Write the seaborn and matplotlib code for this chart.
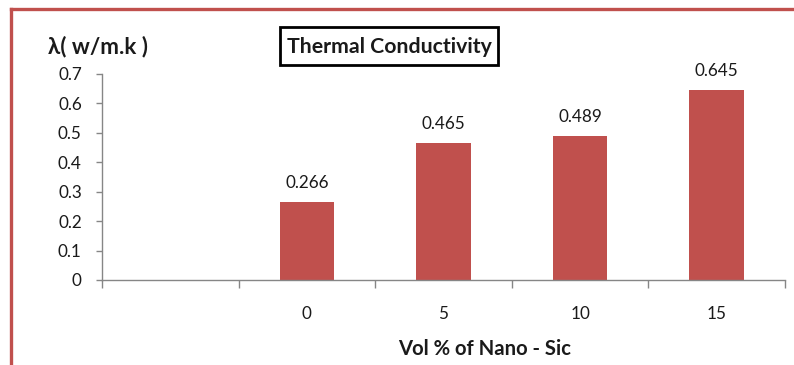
import numpy as np
import pandas as pd
import matplotlib
matplotlib.use("Agg")
import matplotlib.pyplot as plt
from matplotlib.lines import Line2D
from matplotlib.patches import Rectangle
from matplotlib.ticker import FixedLocator
import seaborn as sns

categories = ["", "0", "5", "10", "15"]
values = [np.nan, 0.266, 0.465, 0.489, 0.645]
value_labels = ["", "0.266", "0.465", "0.489", "0.645"]
y_ticks = [0, 0.1, 0.2, 0.3, 0.4, 0.5, 0.6, 0.7]
y_tick_labels = ["0", "0.1", "0.2", "0.3", "0.4", "0.5", "0.6", "0.7"]
title = "Thermal Conductivity"
x_label = "Vol % of Nano - Sic"
y_label = "λ( w/m.k )"

sns.set_style("white")
plt.rcParams["font.family"] = ["Lato", "DejaVu Sans"]

BAR = "#C0504D"
AXIS = "#868686"
TXT = "#1a1a1a"
W, H = 794, 365

df = pd.DataFrame({"cat": categories, "val": values})

fig = plt.figure(figsize=(W / 100, H / 100), dpi=100)
renderer = fig.canvas.get_renderer()


def fit_size(text, target_px, weight="normal"):
    t = fig.text(0, 0, text, fontsize=10, fontweight=weight)
    w = t.get_window_extent(renderer=renderer).width
    t.remove()
    return 10 * target_px / w


tick_fs = fit_size("0.266", 44)
ax = fig.add_axes([102 / W, 1 - 280 / H, (785 - 102) / W, (280 - 74) / H])

sns.barplot(data=df, x="cat", y="val", order=categories, color=BAR,
            saturation=1, width=0.4, ax=ax, edgecolor="none")

ax.set_xlim(-0.5, len(categories) - 0.5)
ax.set_ylim(0, 0.7)
ax.set_yticks(y_ticks)
ax.set_yticklabels(y_tick_labels)

for s in ["top", "right"]:
    ax.spines[s].set_visible(False)
for s in ["left", "bottom"]:
    ax.spines[s].set_color(AXIS)
    ax.spines[s].set_linewidth(1.0)

ax.tick_params(axis="y", which="major", length=4, width=1, color=AXIS,
               labelsize=tick_fs, labelcolor=TXT, pad=10.5, left=True)
ax.xaxis.set_minor_locator(FixedLocator(np.arange(-0.5, len(categories), 1.0)))
ax.tick_params(axis="x", which="minor", length=6, width=1, color=AXIS,
               bottom=True, direction="out")
ax.tick_params(axis="x", which="major", length=0, labelsize=tick_fs,
               labelcolor=TXT, pad=19)
ax.set_xlabel("")
ax.set_ylabel("")

for i, (v, lab) in enumerate(zip(values, value_labels)):
    if lab:
        ax.annotate(lab, xy=(i, v), xytext=(0, 13.5), textcoords="offset points",
                    ha="center", va="center", fontsize=tick_fs, color=TXT)

fig.text(98 / W, 1 - 47 / H, y_label, ha="center", va="center",
         fontsize=fit_size(y_label, 100, "bold"), fontweight="bold", color=TXT)
fig.text(485 / W, 1 - 349 / H, x_label, ha="center", va="center",
         fontsize=fit_size(x_label, 174, "bold"), fontweight="bold", color=TXT)
fig.text(389.5 / W, 1 - 47 / H, title, ha="center", va="center",
         fontsize=fit_size(title, 205, "bold"), fontweight="bold", color=TXT)
fig.add_artist(Rectangle((280 / W, 1 - 65 / H), 218 / W, 38 / H,
                         transform=fig.transFigure, facecolor="none",
                         edgecolor="black", linewidth=2))

# red frame (left and top edges visible)
fig.add_artist(Line2D([11 / W, 11 / W], [0, 1 - 9 / H], transform=fig.transFigure,
                      color=BAR, linewidth=2.4, solid_capstyle="projecting"))
fig.add_artist(Line2D([11 / W, 1], [1 - 9 / H, 1 - 9 / H], transform=fig.transFigure,
                      color=BAR, linewidth=2.4, solid_capstyle="projecting"))

fig.savefig("out.png", dpi=100, facecolor="white")
